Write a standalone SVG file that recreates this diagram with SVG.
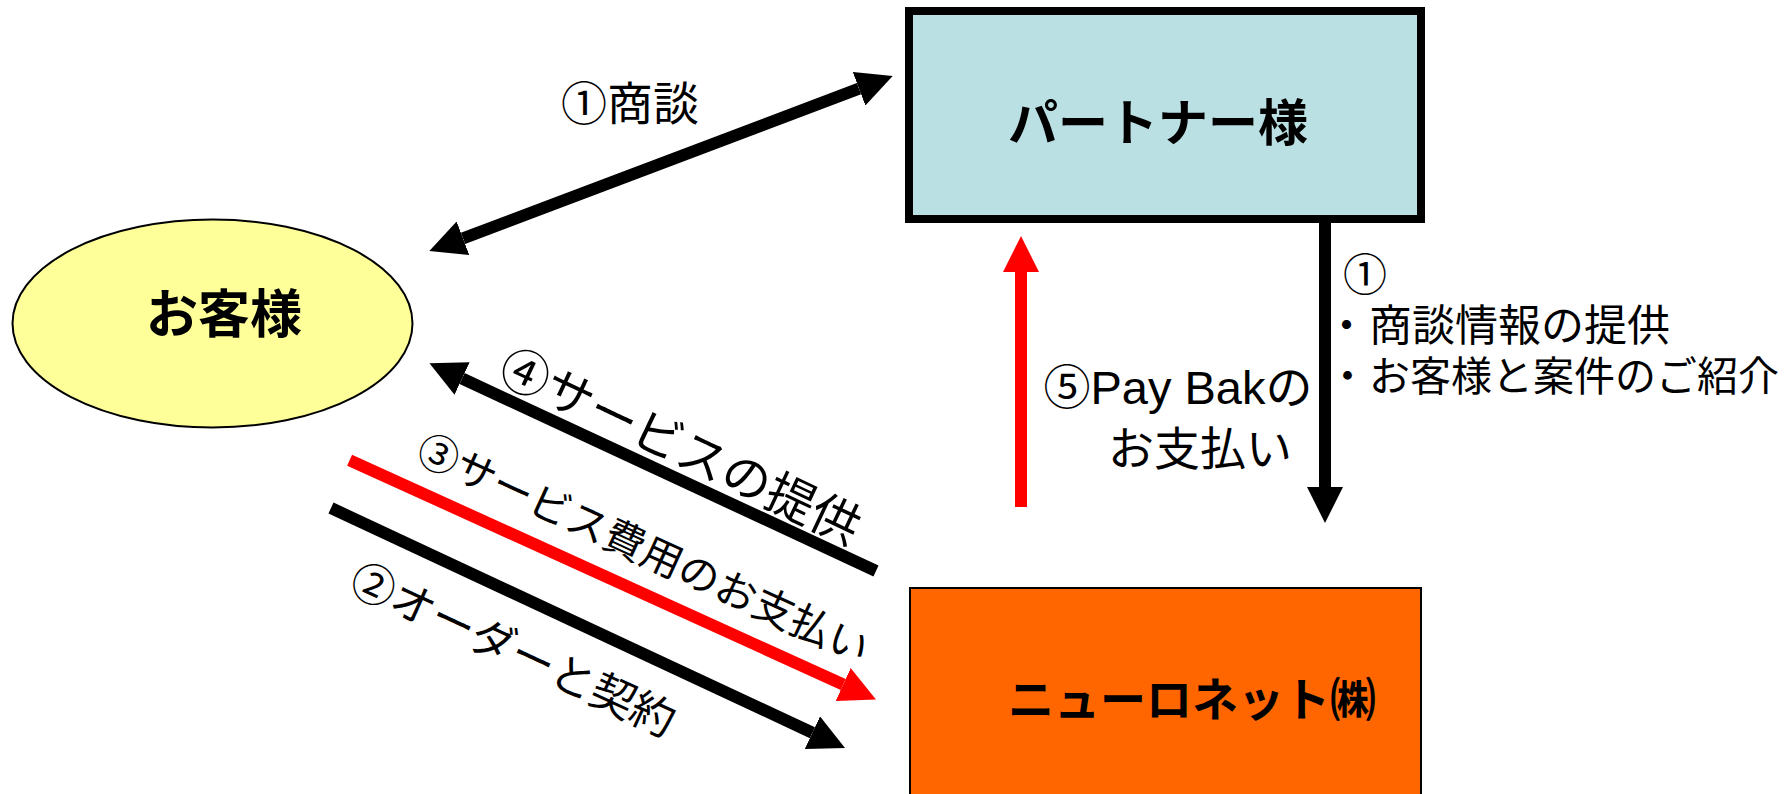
<svg xmlns="http://www.w3.org/2000/svg" width="1791" height="794" viewBox="0 0 1791 794">
<defs>
<style>
.jp{font-family:"Noto Sans CJK JP",sans-serif;fill:#000}
.mix{font-family:"Liberation Sans","Noto Sans CJK JP",sans-serif;fill:#000}
.node{font-weight:700}
.blk{stroke:#000;stroke-width:12;fill:none}
.red{stroke:#FF0000;stroke-width:12;fill:none}
</style>
<marker id="hb" viewBox="0 0 36 36" markerWidth="36" markerHeight="36" markerUnits="userSpaceOnUse" refX="0" refY="18" orient="auto-start-reverse"><path d="M0,0 L36,18 L0,36 Z" fill="#000"/></marker>
<marker id="hr" viewBox="0 0 36 36" markerWidth="36" markerHeight="36" markerUnits="userSpaceOnUse" refX="0" refY="18" orient="auto-start-reverse"><path d="M0,0 L36,18 L0,36 Z" fill="#FF0000"/></marker>
</defs>
<rect width="1791" height="794" fill="#fff"/>
<g id="customer">
<ellipse cx="212.5" cy="323.5" rx="200" ry="104" fill="#FFFF99" stroke="#000" stroke-width="2"/>
<text class="jp node" x="224" y="333" font-size="52" text-anchor="middle">お客様</text>
</g>
<g id="partner">
<rect x="909" y="11" width="512" height="208" fill="#BBE0E3" stroke="#000" stroke-width="8"/>
<text class="jp node" x="1158" y="141" font-size="50" text-anchor="middle">パートナー様</text>
</g>
<g id="neuronet">
<rect x="910" y="588" width="511" height="220" fill="#FF6600" stroke="#000" stroke-width="2"/>
<text class="jp node" x="1192" y="716" font-size="46" text-anchor="middle">ニューロネット㈱</text>
</g>
<g id="connectors">
<line class="blk" x1="463" y1="238.3" x2="859" y2="88.7" marker-start="url(#hb)" marker-end="url(#hb)"/>
<line class="blk" x1="1325" y1="219" x2="1325" y2="487" marker-end="url(#hb)"/>
<line class="red" x1="1021" y1="507" x2="1021" y2="272" marker-end="url(#hr)"/>
<line class="blk" x1="876" y1="571" x2="462.1" y2="378.5" marker-end="url(#hb)"/>
<line class="red" x1="349.6" y1="460.2" x2="843.2" y2="684.5" marker-end="url(#hr)"/>
<line class="blk" x1="331" y1="508" x2="812.4" y2="732.7" marker-end="url(#hb)"/>
</g>
<g id="labels">
<text class="jp" x="630" y="120" font-size="46" text-anchor="middle">①商談</text>
<text class="jp" x="1343" y="291" font-size="44">①</text>
<text class="jp" font-size="43" y="341"><tspan x="1325">・</tspan><tspan x="1369">商談情報の提供</tspan></text>
<text class="jp" font-size="41" y="391"><tspan x="1327">・</tspan><tspan x="1369">お客様と案件のご紹介</tspan></text>
<text class="mix" x="1178" y="404" font-size="47" text-anchor="middle">⑤Pay Bakの</text>
<text class="jp" x="1200" y="465" font-size="46" text-anchor="middle">お支払い</text>
<text class="jp" x="682" y="443" font-size="49" text-anchor="middle" dominant-baseline="central" transform="rotate(25.2 682 443)">④サービスの提供</text>
<text class="jp" x="644.8" y="545.9" font-size="41" text-anchor="middle" dominant-baseline="central" transform="rotate(24.6 644.8 545.9)">③サービス費用のお支払い</text>
<text class="jp" x="514.5" y="647" font-size="44" text-anchor="middle" dominant-baseline="central" transform="rotate(24.8 514.5 647)">②オーダーと契約</text>
</g>
</svg>
